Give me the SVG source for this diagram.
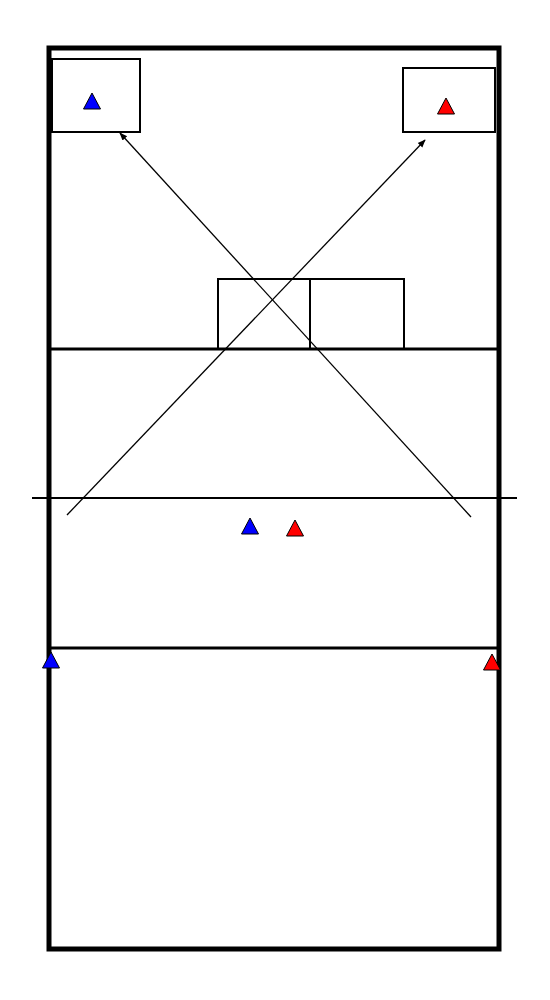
<svg xmlns="http://www.w3.org/2000/svg" width="550" height="1000" viewBox="0 0 550 1000">
<style>
.court{fill:none;stroke:#000;stroke-width:5}
.line{stroke:#000;stroke-width:3}
.box{fill:none;stroke:#000;stroke-width:2}
.arrow{stroke:#000;stroke-width:1.3;fill:none;marker-end:url(#ah)}
.blue{fill:#0000ff;stroke:#000;stroke-width:1}
.red{fill:#ff0000;stroke:#000;stroke-width:1}
</style>
<defs>
<marker id="ah" viewBox="0 0 10 10" refX="9" refY="5" markerWidth="8" markerHeight="8" orient="auto" markerUnits="userSpaceOnUse">
<path d="M0,1 L10,5 L0,9 Z" fill="#000"/>
</marker>
<path id="tri" d="M0,-8 L8.5,8 L-8.5,8 Z"/>
</defs>
<rect fill="#fff" x="0" y="0" width="550" height="1000"/>
<g id="court">
<rect class="court" x="49" y="48" width="450" height="901"/>
<line class="line" x1="49" y1="349" x2="499" y2="349"/>
<line class="line" x1="49" y1="648" x2="499" y2="648"/>
<line stroke="#000" stroke-width="2" x1="32" y1="498" x2="517" y2="498"/>
</g>
<g id="box-tl"><rect class="box" x="52" y="59" width="88" height="73"/></g>
<g id="box-tr"><rect class="box" x="403" y="68" width="92" height="64"/></g>
<g id="box-mid-left"><rect class="box" x="218" y="279" width="92" height="70"/></g>
<g id="box-mid-right"><rect class="box" x="310" y="279" width="94" height="70"/></g>
<g id="connectors">
<line class="arrow" x1="67" y1="515" x2="425" y2="140"/>
<line class="arrow" x1="471" y1="517" x2="120" y2="133"/>
</g>
<g id="p-blue-tl"><use href="#tri" class="blue" x="92" y="101"/></g>
<g id="p-red-tr"><use href="#tri" class="red" x="446" y="106"/></g>
<g id="p-blue-mid"><use href="#tri" class="blue" x="250" y="526"/></g>
<g id="p-red-mid"><use href="#tri" class="red" x="295" y="528"/></g>
<g id="p-blue-left"><use href="#tri" class="blue" x="51" y="660"/></g>
<g id="p-red-right"><use href="#tri" class="red" x="492" y="662"/></g>
</svg>
